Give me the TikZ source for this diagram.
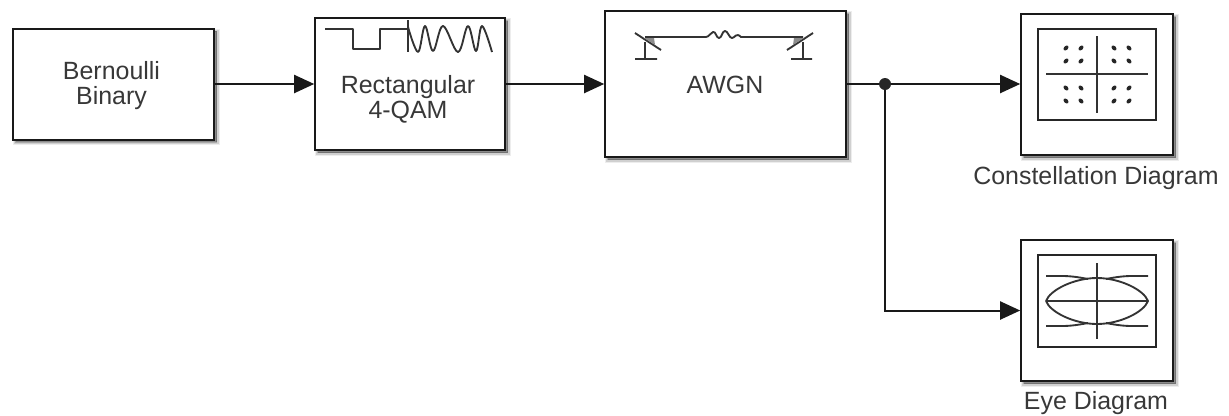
\documentclass[tikz,border=0pt]{standalone}
\usepackage{fontspec}
\setmainfont{Liberation Sans}
\usetikzlibrary{arrows.meta,shadows,calc}
\definecolor{labeltext}{gray}{0.22}
\tikzset{
  x=0.75pt,y=-0.75pt,
  softshadow/.style={
    general shadow={shadow xshift=2.2pt,shadow yshift=-2.2pt,draw=black,fill=black,line width=4pt,opacity=.07},
    general shadow={shadow xshift=2.2pt,shadow yshift=-2.2pt,draw=black,fill=black,line width=2.4pt,opacity=.12},
    general shadow={shadow xshift=2.2pt,shadow yshift=-2.2pt,draw=black,fill=black,line width=.8pt,opacity=.18}},
  block/.style={softshadow,draw=black!90,fill=white,line width=1.5pt,inner sep=0pt,outer sep=0pt},
  label/.style={font=\fontsize{18.7}{18.7}\selectfont,text=labeltext,align=center,inner sep=0pt},
  wire/.style={line width=1.5pt,draw=black!90},
  arrowwire/.style={wire,-{Triangle[length=15pt,width=13.5pt]},shorten >=0.6pt},
  icon/.style={line width=1.4pt,draw=black!80,line join=round},
  scopeframe/.style={draw=black!85,line width=1.3pt,fill=white,inner sep=0pt,outer sep=0pt,minimum width=88.5pt,minimum height=68.5pt},
  dotmark/.style={fill=black!85,draw=none,inner sep=0pt}
}
\begin{document}
\begin{tikzpicture}
\useasboundingbox (0,0) rectangle (1229,415);
% blocks
\node[block,minimum width=150.75pt,minimum height=83.25pt] (bern) at (113.5,84) {};
\node[block,minimum width=142.5pt,minimum height=99pt] (qam) at (410,84) {};
\node[block,minimum width=180.75pt,minimum height=109.5pt] (awgn) at (725.5,84) {};
\node[block,minimum width=114pt,minimum height=105.75pt] (cons) at (1097,84.5) {};
\node[block,minimum width=114pt,minimum height=105.75pt] (eye) at (1097,310.5) {};
% labels
\node[label] (bernlab) at (111.5,86) {Bernoulli\\Binary};
\node[label] (qamlab) at (408,99) {Rectangular\\4-QAM};
\node[label] (awgnlab) at (725,85) {AWGN};
\node[label] (conslab) at (1096,178.5) {Constellation Diagram};
\node[label] (eyelab) at (1096,403) {Eye Diagram};
% connectors
\draw[arrowwire] (bern.east) -- (qam.west);
\draw[arrowwire] (qam.east) -- (awgn.west);
\coordinate (branch) at (885,84);
\draw[arrowwire] (awgn.east) -- (branch) -- (cons.west |- branch);
\draw[arrowwire] (branch) |- (eye.west);
\node[circle,dotmark,minimum size=9pt] (branchdot) at (branch) {};
% modulator icon
\draw[icon] (325,29) -- (353,29) -- (353,49) -- (380,49) -- (380,29) -- (408,29);
\draw[icon] (408,20) -- (408,52);
\draw[icon] plot[smooth,tension=.6] coordinates {
 (408,27) (418,52) (425,26) (433,51) (443,26) (458,52) (468,26) (476,51) (482,26) (492,52)};
% channel icon
\draw[icon] (645,37) -- (706,37) .. controls (709,37) and (710,33) .. (713,32) .. controls (716,31) and (716,38) .. (719,38)
  .. controls (722,38) and (722,31) .. (725,31) .. controls (728,31) and (729,38) .. (732,38)
  .. controls (735,38) and (736,32) .. (741,37) -- (803,37);
\draw[icon] (635,33) -- (661,50) (645,42) -- (645,59) (635,59) -- (657,59);
\fill[black!45] (644,38) -- (654,38) -- (655,45) -- cycle;
\draw[icon] (813,33) -- (787,50) (803,42) -- (803,59) (791,59) -- (812,59);
\fill[black!45] (804,38) -- (794,38) -- (793,45) -- cycle;
% constellation icon
\node[scopeframe] (consscreen) at (1097,74.5) {};
\draw[icon] (1046,74) -- (1148,74) (1097,36) -- (1097,113);
\foreach \cx/\rot in {1066/45,1081/45,1114/-45,1129/-45}
  \foreach \cy in {48,61}
    \fill[black!85] (\cx,\cy) ellipse[x radius=2.2pt,y radius=1.5pt,rotate=\rot];
\foreach \cx/\rot in {1066/-45,1081/-45,1114/45,1129/45}
  \foreach \cy in {88,101}
    \fill[black!85] (\cx,\cy) ellipse[x radius=2.2pt,y radius=1.5pt,rotate=\rot];
% eye icon
\node[scopeframe] (eyescreen) at (1097,301) {};
\draw[icon] (1046,301) -- (1148,301) (1097,263) -- (1097,339);
\draw[icon] (1046,301) .. controls (1050,290) and (1074,278) .. (1097,278)
  .. controls (1120,278) and (1144,290) .. (1148,301)
  .. controls (1144,312) and (1120,324) .. (1097,324)
  .. controls (1074,324) and (1050,312) .. (1046,301);
\draw[icon] (1046,276) -- (1062,276) .. controls (1070,276) and (1078,277) .. (1088,279);
\draw[icon] (1148,276) -- (1132,276) .. controls (1124,276) and (1116,277) .. (1106,279);
\draw[icon] (1046,326) -- (1062,326) .. controls (1070,326) and (1078,325) .. (1088,323);
\draw[icon] (1148,326) -- (1132,326) .. controls (1124,326) and (1116,325) .. (1106,323);
\end{tikzpicture}
\end{document}
